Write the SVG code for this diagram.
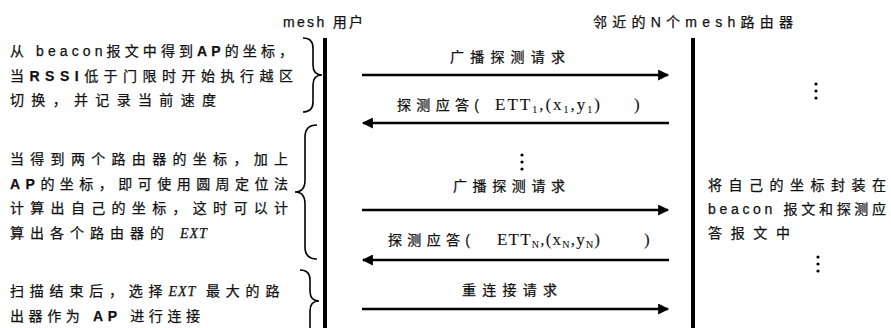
<svg xmlns="http://www.w3.org/2000/svg" width="891" height="328" viewBox="0 0 891 328">
<defs>
<style>
text{font-family:"Liberation Sans","Noto Sans CJK SC",sans-serif;font-size:14px;fill:#111;stroke:#111;stroke-width:0.25;}
.b{font-weight:bold;}
.s{font-family:"Liberation Serif","Noto Sans CJK SC",serif;font-size:17px;stroke-width:0.1;}
.it{font-family:"Liberation Serif",serif;font-style:italic;letter-spacing:1px;}
.sub{font-size:10px;}
.life{stroke:#000;stroke-width:4;fill:none;}
.msg{stroke:#000;stroke-width:2.5;fill:none;}
.brace{stroke:#000;stroke-width:1.6;fill:none;}
.dot{fill:#000;}
</style>
<marker id="ah" viewBox="0 0 10 10" refX="9" refY="5" markerWidth="6.4" markerHeight="4.4" markerUnits="strokeWidth" orient="auto">
<path d="M0,0 L10,5 L0,10 z" fill="#000"/>
</marker>
</defs>
<rect width="891" height="328" fill="#fff"/>

<g id="user">
<text x="283" y="27" textLength="80" lengthAdjust="spacing">mesh 用户</text>
<line class="life" x1="325" y1="38" x2="325" y2="330"/>
</g>
<g id="routers">
<text x="593" y="27" textLength="200" lengthAdjust="spacing">邻近的N个mesh路由器</text>
<line class="life" x1="693" y1="38" x2="693" y2="330"/>
</g>

<g id="note1">
<text x="10" y="56" textLength="283" lengthAdjust="spacing">从 beacon报文中得到<tspan class="b">AP</tspan>的坐标，</text>
<text x="10" y="81" textLength="283" lengthAdjust="spacing">当<tspan class="b">RSSI</tspan>低于门限时开始执行越区</text>
<text x="10" y="105" textLength="206" lengthAdjust="spacing">切换，并记录当前速度</text>
<path class="brace" d="M303,38 Q313,38 313,48 L313,65 Q313,75 322,75 Q313,75 313,85 L313,102 Q313,112 303,112"/>
</g>

<g id="note2">
<text x="10" y="164" textLength="278" lengthAdjust="spacing">当得到两个路由器的坐标，加上</text>
<text x="10" y="189" textLength="278" lengthAdjust="spacing"><tspan class="b">AP</tspan>的坐标，即可使用圆周定位法</text>
<text x="10" y="213" textLength="278" lengthAdjust="spacing">计算出自己的坐标，这时可以计</text>
<text x="10" y="238" letter-spacing="6">算出各个路由器的 <tspan class="it">EXT</tspan></text>
<path class="brace" d="M317,125 Q305,125 305,137 L305,180 Q305,192 295,192 Q305,192 305,204 L305,247 Q305,259 317,259"/>
</g>

<g id="note3">
<text x="10" y="296" letter-spacing="5.8">扫描结束后，选择<tspan class="it">EXT</tspan> 最大的路</text>
<text x="10" y="321" textLength="190" lengthAdjust="spacing">出器作为 <tspan class="b">AP</tspan> 进行连接</text>
<path class="brace" d="M300,270 Q310,270 310,280 L310,291 Q310,301 319,301 Q310,301 310,311 L310,340"/>
</g>

<g id="note4">
<text x="708" y="190" textLength="178" lengthAdjust="spacing">将自己的坐标封装在</text>
<text x="708" y="214" textLength="178" lengthAdjust="spacing">beacon 报文和探测应</text>
<text x="708" y="238" textLength="82" lengthAdjust="spacing">答报文中</text>
</g>

<g id="ellipses">
<circle class="dot" cx="522" cy="155" r="1.6"/><circle class="dot" cx="522" cy="162" r="1.6"/><circle class="dot" cx="522" cy="169" r="1.6"/>
<circle class="dot" cx="816" cy="84" r="1.6"/><circle class="dot" cx="816" cy="91" r="1.6"/><circle class="dot" cx="816" cy="98" r="1.6"/>
<circle class="dot" cx="818" cy="257" r="1.6"/><circle class="dot" cx="818" cy="264" r="1.6"/><circle class="dot" cx="818" cy="271" r="1.6"/>
</g>

<g id="connectors">
<line class="msg" x1="362" y1="75" x2="668" y2="75" marker-end="url(#ah)"/>
<line class="msg" x1="669" y1="123" x2="363" y2="123" marker-end="url(#ah)"/>
<line class="msg" x1="362" y1="210" x2="668" y2="210" marker-end="url(#ah)"/>
<line class="msg" x1="669" y1="260" x2="363" y2="260" marker-end="url(#ah)"/>
<line class="msg" x1="362" y1="309" x2="668" y2="309" marker-end="url(#ah)"/>
<text x="450" y="62" textLength="115" lengthAdjust="spacing">广播探测请求</text>
<text x="397" y="110" textLength="82" lengthAdjust="spacing">探测应答(</text>
<text class="s" x="495" y="110" textLength="105" lengthAdjust="spacing">ETT<tspan class="sub" dy="3">1</tspan><tspan dy="-3">,(x</tspan><tspan class="sub" dy="3">1</tspan><tspan dy="-3">,y</tspan><tspan class="sub" dy="3">1</tspan><tspan dy="-3">)</tspan></text>
<text class="s" x="634" y="110">)</text>
<text x="453" y="191" textLength="112" lengthAdjust="spacing">广播探测请求</text>
<text x="388" y="245" textLength="82" lengthAdjust="spacing">探测应答(</text>
<text class="s" x="497" y="245" textLength="103" lengthAdjust="spacing">ETT<tspan class="sub" dy="3">N</tspan><tspan dy="-3">,(x</tspan><tspan class="sub" dy="3">N</tspan><tspan dy="-3">,y</tspan><tspan class="sub" dy="3">N</tspan><tspan dy="-3">)</tspan></text>
<text class="s" x="644" y="245">)</text>
<text x="462" y="295" textLength="95" lengthAdjust="spacing">重连接请求</text>
</g>
</svg>
